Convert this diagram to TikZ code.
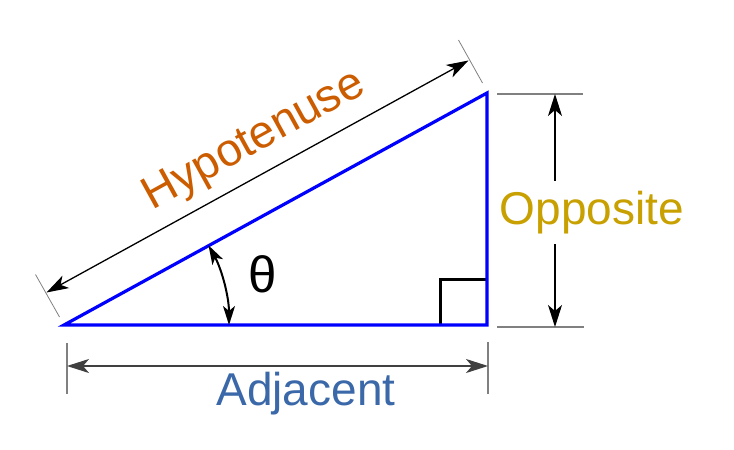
\documentclass[tikz,border=0pt]{standalone}
\usepackage{fontspec}
\setmainfont{Liberation Sans}
\usetikzlibrary{arrows.meta}
\definecolor{hypc}{HTML}{CC5C00}
\definecolor{adjc}{HTML}{3A68A8}
\definecolor{oppc}{HTML}{C8A000}
\definecolor{dimgr}{HTML}{404040}
\definecolor{extgr}{HTML}{808080}
\begin{document}
\begin{tikzpicture}[x=1pt,y=-1pt,
  bigtip/.tip={Stealth[length=22pt,width=14pt,inset=6pt]},
  smalltip/.tip={Stealth[length=19pt,width=12pt,inset=5pt]},
  dimline/.style={black, line width=1.3pt, bigtip-bigtip},
  extline/.style={extgr, line width=1pt},
  tri/.style={blue, line width=3.2pt, line join=miter},
  lbl/.style={font=\fontsize{46}{46}\selectfont, anchor=base, inner sep=0pt}]
\useasboundingbox (0,0) rectangle (734,450);
% vertices
\coordinate (A) at (64,325);
\coordinate (B) at (487,325);
\coordinate (C) at (487,93);
% right angle mark
\coordinate (ra1) at (440,325);
\coordinate (ra2) at (440,279);
\coordinate (ra3) at (487,279);
\draw[black, line width=3pt] (ra1) -- (ra2) -- (ra3);
% triangle
\draw[tri] (A) -- (B) -- (C) -- cycle;
% hypotenuse dimension
\coordinate (hA1) at (59.5,317);
\coordinate (hA2) at (35.5,274.5);
\coordinate (hC1) at (482.5,83);
\coordinate (hC2) at (458.5,40);
\draw[extline, line width=0.8pt] (hA1) -- (hA2);
\draw[extline, line width=0.8pt] (hC1) -- (hC2);
\coordinate (hAm) at (46.5,292.5);
\coordinate (hCm) at (468.5,60.5);
\draw[dimline] (hAm) -- (hCm);
\node[lbl, text=hypc, rotate=28.85] (hyp) at (260,151) {Hypotenuse};
% opposite dimension
\coordinate (oT1) at (497,94);
\coordinate (oT2) at (583,94);
\coordinate (oB1) at (497,327);
\coordinate (oB2) at (584,327);
\draw[extline, line width=1.5pt] (oT1) -- (oT2);
\draw[extline, line width=1.5pt] (oB1) -- (oB2);
\coordinate (oTm) at (555,94);
\coordinate (oBm) at (555,327);
\draw[dimline] (oTm) -- (oBm);
\node[lbl, text=oppc, fill=white, inner xsep=2pt, inner ysep=10pt] (opp) at (592,224) {Opposite};
% adjacent dimension
\coordinate (aL1) at (67,343);
\coordinate (aL2) at (67,394);
\coordinate (aR1) at (488,342);
\coordinate (aR2) at (488,394);
\draw[extline, line width=1.5pt] (aL1) -- (aL2);
\draw[extline, line width=1.5pt] (aR1) -- (aR2);
\coordinate (aLm) at (67,366);
\coordinate (aRm) at (488,366);
\draw[dimline, dimgr, line width=2pt] (aLm) -- (aRm);
\node[lbl, text=adjc] (adj) at (306,405) {Adjacent};
% angle
\coordinate (th0) at (229,325);
\draw[black, line width=2pt, smalltip-smalltip] (th0) arc[start angle=0, end angle=-28.85, radius=165];
\node[font=\fontsize{51}{51}\selectfont, inner sep=0pt] (theta) at (263,274) {θ};
\end{tikzpicture}
\end{document}
